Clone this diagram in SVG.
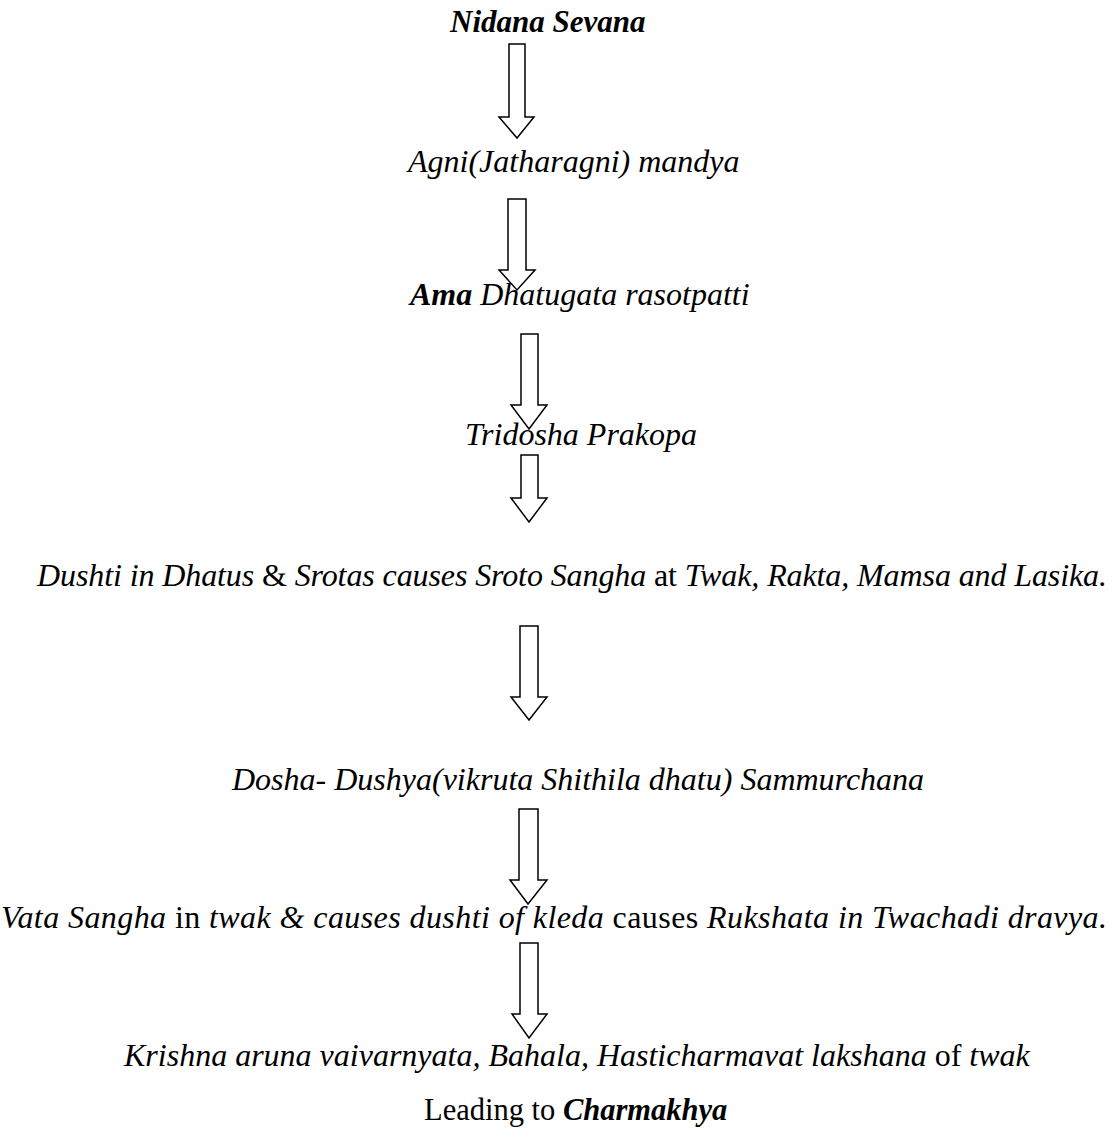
<svg xmlns="http://www.w3.org/2000/svg" width="1119" height="1142" viewBox="0 0 1119 1142">
<style>
text{font-family:"Liberation Serif","Times New Roman",serif;font-size:32px;fill:#000}
.i{font-style:italic}
.b{font-weight:bold}
.n{font-style:normal;font-weight:normal}
.arrow{fill:#fff;stroke:#000;stroke-width:1.5;stroke-linejoin:miter}
</style>
<rect width="1119" height="1142" fill="#fff"/>
<g id="connectors">
<polygon class="arrow" points="509,44 525,44 525,117 534,117 517,138 499,117 509,117"/>
<polygon class="arrow" points="508,199 526,199 526,270 535,270 517,290 499,270 508,270"/>
<polygon class="arrow" points="521,334 538,334 538,405 547,405 529,429 511,405 521,405"/>
<polygon class="arrow" points="521,455 538,455 538,498 547,498 529,522 511,498 521,498"/>
<polygon class="arrow" points="520,626 538,626 538,697 547,697 529,720 511,697 520,697"/>
<polygon class="arrow" points="519,809 538,809 538,880 547,880 528,904 510,880 519,880"/>
<polygon class="arrow" points="520,943 538,943 538,1014 547,1014 529,1038 512,1014 520,1014"/>
</g>
<g id="n1"><text x="450" y="32" class="i b" style="font-size:31px">Nidana Sevana</text></g>
<g id="n2"><text x="408" y="172" class="i">Agni(Jatharagni) mandya</text></g>
<g id="n3"><text x="410" y="305" class="i"><tspan class="b">Ama</tspan> Dhatugata rasotpatti</text></g>
<g id="n4"><text x="465" y="445" class="i">Tridosha Prakopa</text></g>
<g id="n5"><text x="37" y="586" class="i" textLength="1070" lengthAdjust="spacing">Dushti in Dhatus <tspan class="n">&amp;</tspan> Srotas causes Sroto Sangha <tspan class="n">at</tspan> Twak, Rakta, Mamsa and Lasika.</text></g>
<g id="n6"><text x="232" y="790" class="i">Dosha- Dushya(vikruta Shithila dhatu) Sammurchana</text></g>
<g id="n7"><text x="1" y="928" class="i" textLength="1106" lengthAdjust="spacing">Vata Sangha <tspan class="n">in</tspan> twak &amp; causes dushti of kleda <tspan class="n">causes</tspan> Rukshata in Twachadi dravya.</text></g>
<g id="n8"><text x="124" y="1066" class="i">Krishna aruna vaivarnyata, Bahala, Hasticharmavat lakshana <tspan class="n">of</tspan> twak</text></g>
<g id="n9"><text x="424" y="1120" style="font-size:30.5px">Leading to <tspan class="i b">Charmakhya</tspan></text></g>
</svg>
